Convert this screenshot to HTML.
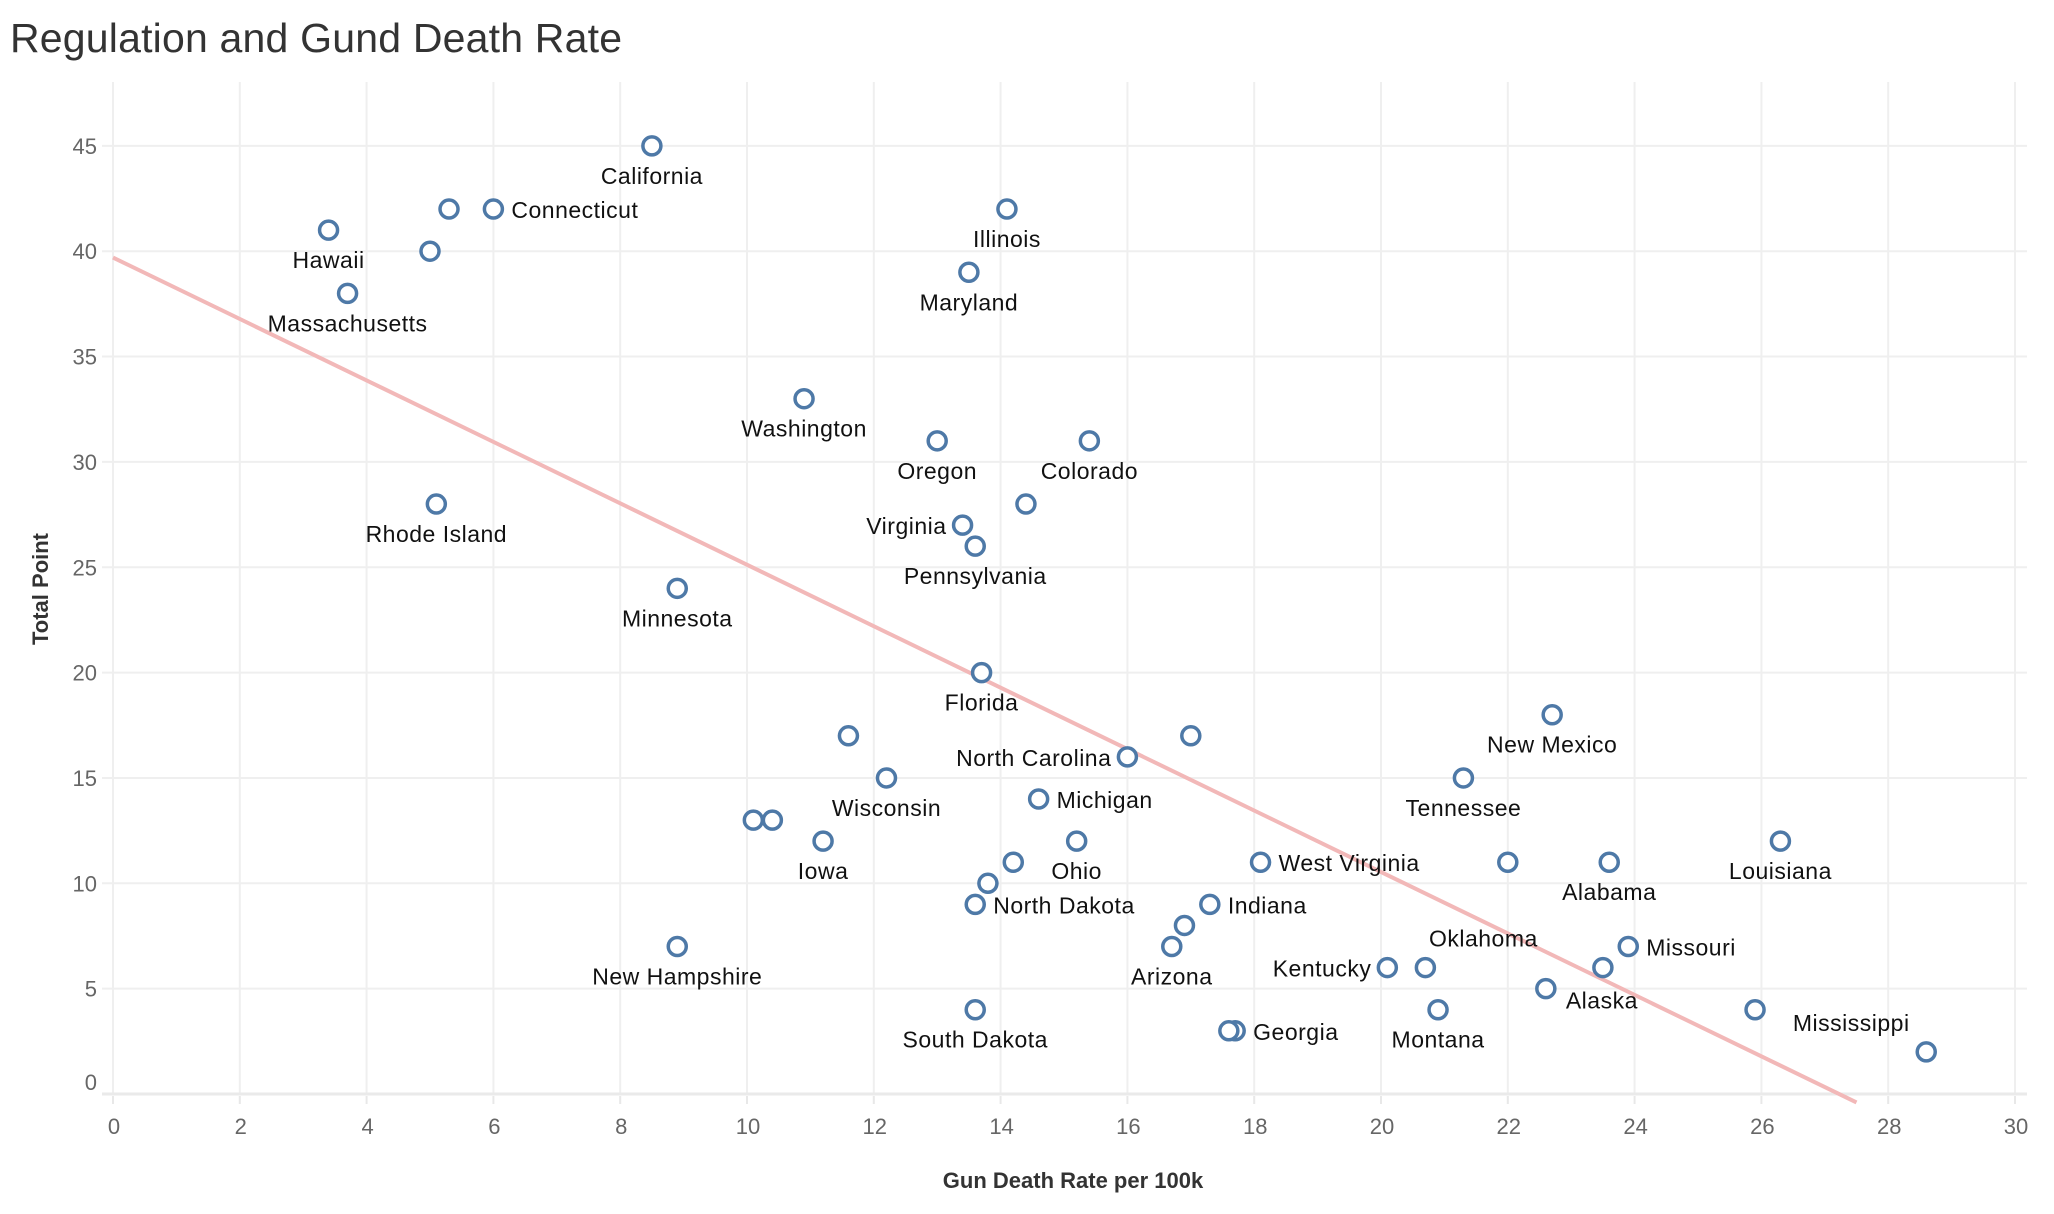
<!DOCTYPE html>
<html><head><meta charset="utf-8"><style>
html,body{margin:0;padding:0;background:#fff;}
svg{display:block;font-family:"Liberation Sans",sans-serif;}
</style></head><body>
<svg id="chart" width="2054" height="1214" viewBox="0 0 2054 1214">
<text x="10" y="52" font-size="41" fill="#333" font-weight="300" textLength="612">Regulation and Gund Death Rate</text>
<g id="grid"></g><g id="trend"></g><g id="pts"></g><g id="lbls"></g>
<text x="1073" y="1188" font-size="22" font-weight="bold" fill="#333" text-anchor="middle">Gun Death Rate per 100k</text>
<text transform="translate(48,589) rotate(-90)" font-size="22" font-weight="bold" fill="#333" text-anchor="middle">Total Point</text>
</svg>
<script>
const states=["California","Connecticut","","Hawaii","","Massachusetts","Illinois","Maryland","Washington","Oregon","Colorado","","Rhode Island","Virginia","Pennsylvania","Minnesota","Florida","","","North Carolina","Wisconsin","Michigan","","","Iowa","Ohio","","","North Dakota","Indiana","","Arizona","West Virginia","New Mexico","Tennessee","","Alabama","Louisiana","Oklahoma","Kentucky","Missouri","","Alaska","Montana","","Mississippi","New Hampshire","South Dakota","Georgia",""];
const deathRate=[8.5,6.0,5.3,3.4,5.0,3.7,14.1,13.5,10.9,13.0,15.4,14.4,5.1,13.4,13.6,8.9,13.7,11.6,17.0,16.0,12.2,14.6,10.1,10.4,11.2,15.2,14.2,13.8,13.6,17.3,16.9,16.7,18.1,22.7,21.3,22.0,23.6,26.3,20.7,20.1,23.9,23.5,22.6,20.9,25.9,28.6,8.9,13.6,17.7,17.6];
const totalPoint=[45,42,42,41,40,38,42,39,33,31,31,28,28,27,26,24,20,17,17,16,15,14,13,13,12,12,11,10,9,9,8,7,11,18,15,11,11,12,6,6,7,6,5,4,4,2,7,4,3,3];
const labelPos=["b","r","","b","","b","b","b","b","b","b","","b","l","b","b","b","","","l","b","r","","","b","b","","","r","r","","b","r","b","b","","b","b","ok","l","r","","al","b","","ms","b","b","r",""];
const xTicks=[0,2,4,6,8,10,12,14,16,18,20,22,24,26,28,30];
const yTicks=[0,5,10,15,20,25,30,35,40,45];
const trendStart=[0,39.7], trendEnd=[27.5,-0.4];
const X=v=>113+63.4*v, Y=v=>1094-21.07*v;
const NS="http://www.w3.org/2000/svg";
function mk(tag,attrs,parent){const e=document.createElementNS(NS,tag);for(const k in attrs)e.setAttribute(k,attrs[k]);parent.appendChild(e);return e;}
const grid=document.getElementById('grid');
xTicks.forEach(t=>{
 const l=mk('line',{x1:X(t),x2:X(t),y1:82,y2:1094,stroke:'#efefef','stroke-width':2},grid);
 
 
 const tk=mk('line',{x1:X(t),x2:X(t),y1:1096,y2:1104,stroke:'#e8e8e8','stroke-width':2},grid);
 
 
 const tx=mk('text',{x:X(t)+1,y:1134,'font-size':22,fill:'#666','text-anchor':'middle'},grid);
 tx.textContent=t;
 
 
});
yTicks.forEach(t=>{
 const l=mk('line',{x1:102,x2:2027,y1:Y(t),y2:Y(t),stroke:'#efefef','stroke-width':2},grid);
 
 
 const tx=mk('text',{x:97,y:(t===0?Y(t)-12:Y(t))+8,'font-size':22,fill:'#666','text-anchor':'end'},grid);
 tx.textContent=t;
 
 
});
const ax=mk('line',{x1:102,x2:2027,y1:1094,y2:1094,stroke:'#eaeaea','stroke-width':3},grid);


const tr=mk('line',{x1:X(trendStart[0]),y1:Y(trendStart[1]),x2:X(trendEnd[0]),y2:Y(trendEnd[1]),stroke:'#f2b8b8','stroke-width':4},document.getElementById('trend'));


const pts=document.getElementById('pts'),lb=document.getElementById('lbls');
deathRate.forEach((d,i)=>{
 const c=mk('circle',{cx:X(d),cy:Y(totalPoint[i]),r:9,fill:'#fff',stroke:'#4e79a7','stroke-width':3.5},pts);
 
 
 if(!states[i])return;
 const p=labelPos[i];let dx=0,dy=30,anc='middle';
 if(p==='r'){dx=18;dy=1;anc='start';}
 else if(p==='l'){dx=-16;dy=1;anc='end';}
 else if(p==='ok'){dx=58;dy=-29;}
 else if(p==='ms'){dx=-75;dy=-29;}
 else if(p==='al'){dx=20;dy=12;anc='start';}
 const t=mk('text',{x:X(d)+dx,y:Y(totalPoint[i])+dy+8,'font-size':23,fill:'#111','text-anchor':anc,'letter-spacing':'0.5'},lb);
 t.textContent=states[i];
 
 
});
</script>
</body></html>
